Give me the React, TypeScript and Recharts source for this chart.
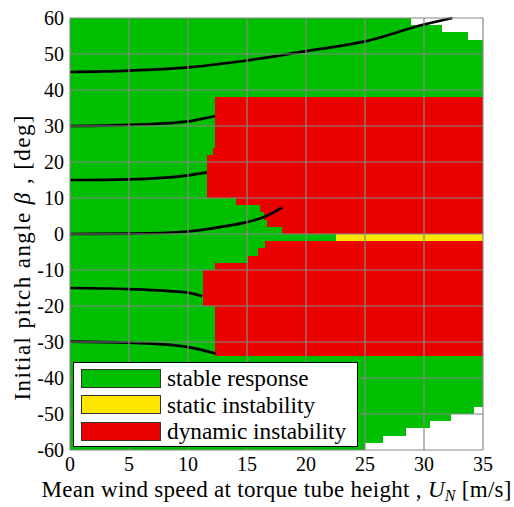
import { ComposedChart, XAxis, YAxis, Line, ReferenceArea, CartesianGrid } from 'recharts';

const GREEN = '#00bf00';
const RED = '#eb0000';
const YELLOW = '#ffe600';
const GRID = '#888888';
const FONT = 'Liberation Serif, DejaVu Serif, serif';

const xTicks = [0, 5, 10, 15, 20, 25, 30, 35];
const yTicks = [-60, -50, -40, -30, -20, -10, 0, 10, 20, 30, 40, 50, 60];

// bands: [beta low, beta high, U where the band starts]; each band runs to U = 35
const dynamicBands: [number, number, number][] = [
  [24, 38, 12.3],
  [22, 24, 12.1],
  [10, 22, 11.6],
  [8, 10, 14.1],
  [6, 8, 16.1],
  [4, 6, 16.4],
  [2, 4, 16.7],
  [0, 2, 18.0],
  [-4, -2, 16.5],
  [-6, -4, 15.9],
  [-8, -6, 15.1],
  [-10, -8, 12.3],
  [-20, -10, 11.3],
  [-34, -20, 12.3],
];
const staticBands: [number, number, number][] = [[-2, 0, 22.5]];
// cases that were not computed (left blank)
const blankBands: [number, number, number][] = [
  [58, 60, 28.9],
  [56, 58, 31.5],
  [54, 56, 33.7],
  [-50, -48, 34.2],
  [-52, -50, 32.3],
  [-54, -52, 30.5],
  [-56, -54, 28.5],
  [-58, -56, 26.5],
  [-60, -58, 25.0],
];

// stability boundary curves (U in m/s, beta in deg)
const c45U = [0, 5, 10, 15, 20, 25, 30, 32.4];
const c45B = [45.0, 45.4, 46.3, 48.2, 50.8, 53.5, 58.2, 60.0];
const c30U = [0, 5, 10, 11.2, 12.3];
const c30B = [30.0, 30.3, 31.3, 32.0, 32.8];
const c15U = [0, 5, 10, 11.6];
const c15B = [15.0, 15.2, 16.3, 17.1];
const c0U = [0, 5, 10, 13, 15, 16.5, 18];
const c0B = [0, 0.1, 0.7, 2.1, 3.3, 4.8, 7.4];
const cm15U = [0, 5, 10, 11.2];
const cm15B = [-15.0, -15.3, -16.3, -17.3];
const cm30U = [0, 5, 10, 12.35];
const cm30B = [-29.9, -30.2, -31.4, -33.2];

const curves = [
  [c45U, c45B],
  [c30U, c30B],
  [c15U, c15B],
  [c0U, c0B],
  [cm15U, cm15B],
  [cm30U, cm30B],
].map(([us, bs]) => us.map((u, i) => ({ u, b: bs[i] })));

const legendLabels = ['stable response', 'static instability', 'dynamic instability'];
const legendColors = [GREEN, YELLOW, RED];

const Cell = (p: any) => (
  <rect x={p.x} y={p.y} width={p.width} height={p.height} fill={p.fill} shapeRendering="crispEdges" />
);

const band = (b: [number, number, number], fill: string, key: string) => (
  <ReferenceArea
    key={key}
    x1={b[2]}
    x2={35}
    y1={b[0]}
    y2={b[1]}
    fill={fill}
    fillOpacity={1}
    stroke="none"
    shape={Cell}
  />
);

const XLabel = ({ viewBox }: any) => (
  <text
    x={viewBox.x + viewBox.width / 2}
    y={viewBox.y + 47}
    textAnchor="middle"
    fontFamily={FONT}
    fontSize={23}
    fill="#000"
    textLength={470}
    lengthAdjust="spacing"
  >
    Mean wind speed at torque tube height ,{' '}
    <tspan fontStyle="italic">U</tspan>
    <tspan fontStyle="italic" fontSize={16} dy={4}>N</tspan>
    <tspan dy={-4}>{'  [m/s]'}</tspan>
  </text>
);

const YLabel = () => (
  <text
    x={30}
    y={258}
    transform="rotate(-90, 30, 258)"
    textAnchor="middle"
    fontFamily={FONT}
    fontSize={23}
    fill="#000"
    textLength={285}
    lengthAdjust="spacing"
  >
    Initial pitch angle <tspan fontStyle="italic">β</tspan> , [deg]
  </text>
);

export default function App() {
  const tickStyle = { fontFamily: FONT, fontSize: 20, fill: '#000' };
  return (
    <div style={{ position: 'absolute', left: 0, top: 0, width: 514, height: 507, background: '#fff' }}>
      <ComposedChart width={514} height={507} margin={{ top: 18, right: 31, left: 0, bottom: 0 }}>
        <XAxis
          type="number"
          dataKey="u"
          domain={[0, 35]}
          ticks={xTicks}
          tick={tickStyle}
          tickLine={false}
          axisLine={false}
          tickSize={0}
          tickMargin={7}
          height={57}
          label={<XLabel />}
        />
        <YAxis
          type="number"
          dataKey="b"
          domain={[-60, 60]}
          ticks={yTicks}
          tick={tickStyle}
          tickLine={false}
          axisLine={false}
          tickSize={0}
          tickMargin={6}
          width={70}
          label={<YLabel />}
        />
        {/* grid sits above the coloured map, like the original */}
        <CartesianGrid stroke={GRID} strokeWidth={1.2} zIndex={1000} />
        <ReferenceArea x1={0} x2={35} y1={-60} y2={60} fill={GREEN} fillOpacity={1} stroke="none" shape={Cell} />
        {blankBands.map((b, i) => band(b, '#fff', `w${i}`))}
        {dynamicBands.map((b, i) => band(b, RED, `r${i}`))}
        {staticBands.map((b, i) => band(b, YELLOW, `y${i}`))}
        {curves.map((c, i) => (
          <Line
            key={`c${i}`}
            data={c}
            dataKey="b"
            type="monotone"
            stroke="#000"
            strokeWidth={2.7}
            dot={false}
            activeDot={false}
            isAnimationActive={false}
          />
        ))}
      </ComposedChart>
      <div
        style={{
          position: 'absolute',
          left: 73,
          top: 362,
          width: 285,
          height: 85,
          boxSizing: 'border-box',
          border: '1.5px solid #000',
          background: '#fff',
          fontFamily: FONT,
          fontSize: 23.3,
        }}
      >
        {legendLabels.map((label, i) => (
          <div key={label} style={{ position: 'absolute', left: 7, top: 5 + i * 26.5, height: 20, display: 'flex', alignItems: 'center' }}>
            <div
              style={{
                width: 80,
                height: 19,
                boxSizing: 'border-box',
                border: '1.5px solid #333',
                background: legendColors[i],
              }}
            />
            <span style={{ marginLeft: 6, whiteSpace: 'nowrap', lineHeight: '20px' }}>{label}</span>
          </div>
        ))}
      </div>
    </div>
  );
}
